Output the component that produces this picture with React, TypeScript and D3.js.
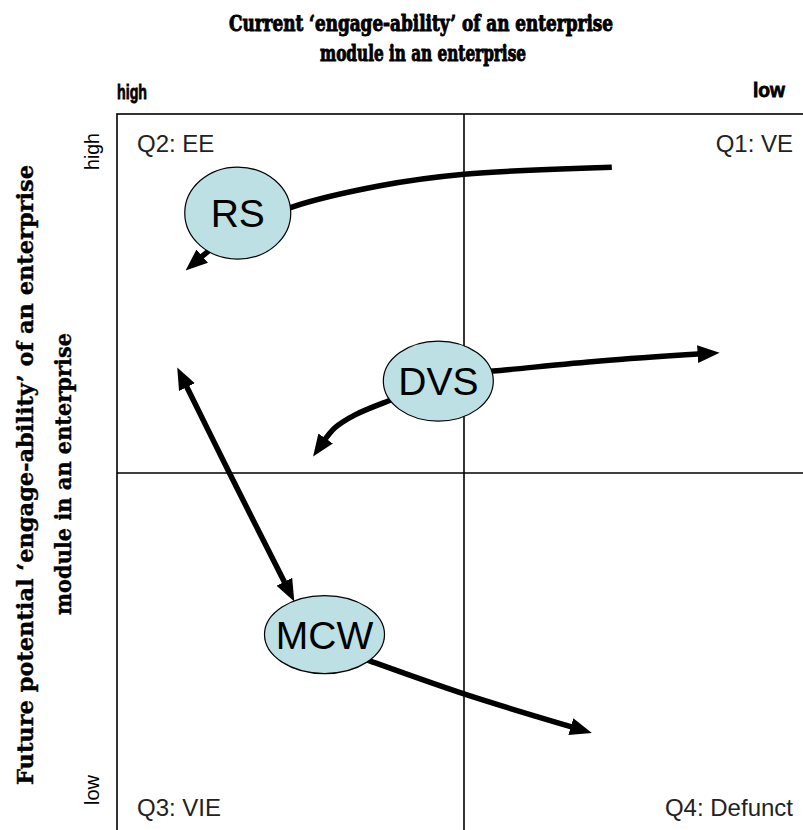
import React, { useEffect, useRef } from "react";
import * as d3 from "d3";

// quadrant grid: x runs from high (0) to low (10) current engage-ability,
// y runs from low (0) to high (10) future potential
const quadrants = [
  { label: "Q2: EE", x: 0, y: 10, anchor: "start" },
  { label: "Q1: VE", x: 10, y: 10, anchor: "end" },
  { label: "Q3: VIE", x: 0, y: 0, anchor: "start" },
  { label: "Q4: Defunct", x: 10, y: 0, anchor: "end" },
];

const modules = [
  { name: "RS", x: 1.74, y: 8.62 },
  { name: "DVS", x: 4.63, y: 6.28 },
  { name: "MCW", x: 2.99, y: 2.75 },
];

// movement paths of each module
const rsPath: [number, number][] = [
  [7.13, 9.26],
  [5.0, 9.16],
  [3.79, 9.0],
  [2.51, 8.7],
  [1.7, 8.36],
  [1.18, 7.98],
];
const dvsRight: [number, number][] = [
  [4.9, 6.38],
  [5.42, 6.42],
  [6.96, 6.56],
  [8.43, 6.66],
];
const dvsLeft: [number, number][] = [
  [4.37, 6.16],
  [3.9, 6.0],
  [3.43, 5.81],
  [3.14, 5.63],
  [2.97, 5.43],
];
const mcwUp: [number, number][] = [
  [0.98, 6.25],
  [1.62, 5.0],
  [2.44, 3.43],
];
const mcwRight: [number, number][] = [
  [3.25, 2.52],
  [3.65, 2.38],
  [5.01, 1.92],
  [6.6, 1.45],
];

const arrows = [
  { pts: rsPath, both: false },
  { pts: dvsRight, both: false },
  { pts: dvsLeft, both: false },
  { pts: mcwUp, both: true },
  { pts: mcwRight, both: false },
];

const xTitle = ["Current \u2018engage-ability\u2019 of an enterprise", "module in an enterprise"];
const yTitle = ["Future potential \u2018engage-ability\u2019 of an enterprise", "module in an enterprise"];

const App = () => {
  const svgRef = useRef<SVGSVGElement>(null);

  useEffect(() => {
    const width = 803;
    const height = 830;
    const frame = { left: 117, top: 114, right: 811, bottom: 832 };

    const svg = d3.select(svgRef.current);
    svg.selectAll("*").remove();
    svg.attr("width", width).attr("height", height);

    const x = d3.scaleLinear().domain([0, 10]).range([frame.left, frame.right]);
    const y = d3.scaleLinear().domain([0, 10]).range([frame.bottom, frame.top]);

    // arrow head
    svg
      .append("defs")
      .append("marker")
      .attr("id", "head")
      .attr("viewBox", "0 -5 10 10")
      .attr("refX", 2)
      .attr("refY", 0)
      .attr("markerWidth", 4)
      .attr("markerHeight", 4)
      .attr("orient", "auto-start-reverse")
      .append("path")
      .attr("d", "M0,-4L10,0L0,4Z")
      .attr("fill", "#000");

    // titles
    const t = svg
      .append("g")
      .attr("fill", "#000")
      .attr("stroke", "#000")
      .attr("font-family", "DejaVu Serif")
      .attr("font-weight", "bold");
    t.append("text")
      .attr("x", 421)
      .attr("y", 31)
      .attr("text-anchor", "middle")
      .attr("font-size", 22)
      .attr("stroke-width", 1)
      .attr("textLength", 384)
      .attr("lengthAdjust", "spacingAndGlyphs")
      .text(xTitle[0]);
    t.append("text")
      .attr("x", 423)
      .attr("y", 61)
      .attr("text-anchor", "middle")
      .attr("font-size", 22)
      .attr("stroke-width", 1)
      .attr("textLength", 206)
      .attr("lengthAdjust", "spacingAndGlyphs")
      .text(xTitle[1]);

    t.append("text")
      .attr("transform", "translate(33,475) rotate(-90)")
      .attr("text-anchor", "middle")
      .attr("font-size", 23)
      .attr("stroke-width", 0.4)
      .attr("textLength", 620)
      .attr("lengthAdjust", "spacingAndGlyphs")
      .text(yTitle[0]);
    t.append("text")
      .attr("transform", "translate(71,474) rotate(-90)")
      .attr("text-anchor", "middle")
      .attr("font-size", 23)
      .attr("stroke-width", 0.4)
      .attr("textLength", 282)
      .attr("lengthAdjust", "spacingAndGlyphs")
      .text(yTitle[1]);

    // high / low markers
    const hl = svg.append("g").attr("font-family", "Liberation Sans").attr("fill", "#000");
    hl.append("text").attr("x", 117).attr("y", 99).attr("font-weight", "bold").attr("font-size", 21)
      .attr("stroke", "#000").attr("stroke-width", 0.8)
      .attr("textLength", 30).attr("lengthAdjust", "spacingAndGlyphs").text("high");
    hl.append("text").attr("x", 785).attr("y", 97).attr("text-anchor", "end").attr("font-weight", "bold").attr("font-size", 21)
      .attr("stroke", "#000").attr("stroke-width", 0.8)
      .attr("textLength", 32).attr("lengthAdjust", "spacingAndGlyphs").text("low");
    hl.append("text").attr("transform", "translate(99,133) rotate(-90)").attr("text-anchor", "end").attr("font-size", 20)
      .attr("textLength", 37).attr("lengthAdjust", "spacingAndGlyphs").text("high");
    hl.append("text").attr("transform", "translate(99,805) rotate(-90)").attr("font-size", 20)
      .attr("textLength", 30).attr("lengthAdjust", "spacingAndGlyphs").text("low");

    // frame and quadrant dividers
    const g = svg.append("g").attr("stroke", "#000").attr("stroke-width", 1.6).attr("fill", "none");
    g.append("rect")
      .attr("x", x(0))
      .attr("y", y(10))
      .attr("width", x(10) - x(0))
      .attr("height", y(0) - y(10));
    g.append("line").attr("x1", x(5)).attr("x2", x(5)).attr("y1", y(0)).attr("y2", y(10));
    g.append("line").attr("x1", x(0)).attr("x2", x(10)).attr("y1", y(5)).attr("y2", y(5));

    // quadrant labels
    svg
      .append("g")
      .selectAll("text")
      .data(quadrants)
      .join("text")
      .attr("x", (d) => x(d.x) + (d.anchor === "start" ? 20 : -18))
      .attr("y", (d) => y(d.y) + (d.y === 10 ? 38 : -16))
      .attr("text-anchor", (d) => d.anchor)
      .attr("font-family", "Liberation Sans")
      .attr("font-size", 24)
      .attr("fill", "#222")
      .text((d) => d.label);

    // arrows
    const line = d3
      .line<[number, number]>()
      .x((d) => x(d[0]))
      .y((d) => y(d[1]))
      .curve(d3.curveCatmullRom);

    svg
      .append("g")
      .selectAll("path")
      .data(arrows)
      .join("path")
      .attr("d", (d) => line(d.pts))
      .attr("fill", "none")
      .attr("stroke", "#000")
      .attr("stroke-width", 5.5)
      .attr("marker-end", "url(#head)")
      .attr("marker-start", (d) => (d.both ? "url(#head)" : null));

    // module bubbles
    const sizes: Record<string, [number, number]> = { RS: [53, 46], DVS: [55, 40], MCW: [60, 39] };
    const nodes = svg.append("g").selectAll("g").data(modules).join("g");
    nodes
      .append("ellipse")
      .attr("cx", (d) => x(d.x))
      .attr("cy", (d) => y(d.y))
      .attr("rx", (d) => sizes[d.name][0])
      .attr("ry", (d) => sizes[d.name][1])
      .attr("fill", "#bce0e3")
      .attr("stroke", "#000")
      .attr("stroke-width", 1.2);
    nodes
      .append("text")
      .attr("x", (d) => x(d.x))
      .attr("y", (d) => y(d.y) + 14)
      .attr("text-anchor", "middle")
      .attr("font-family", "Liberation Sans")
      .attr("font-size", 39)
      .attr("fill", "#000")
      .text((d) => d.name);
  }, []);

  return <svg ref={svgRef} style={{ position: "absolute", left: 0, top: 0 }}></svg>;
};

export default App;
